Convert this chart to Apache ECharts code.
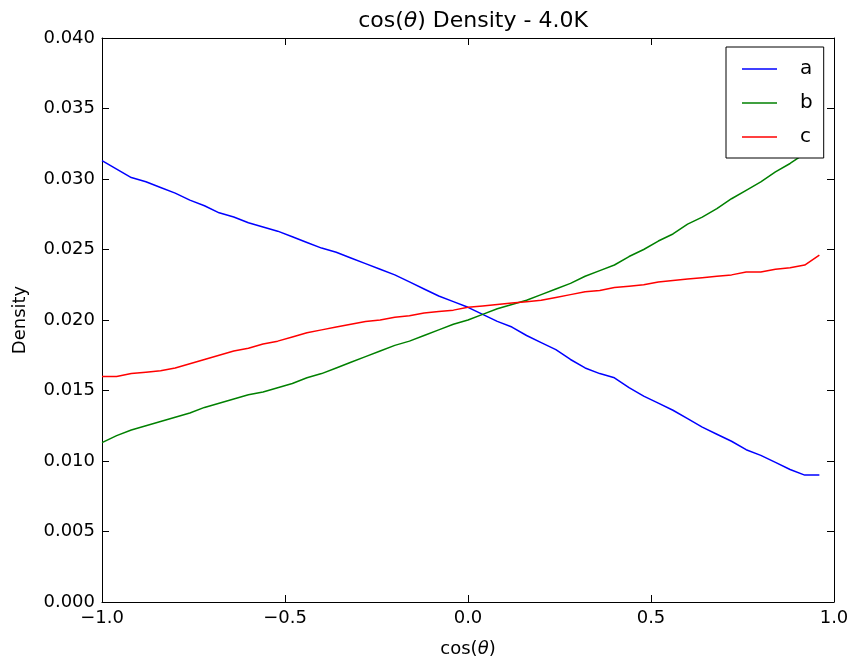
<!DOCTYPE html>
<html>
<head>
<meta charset="utf-8">
<script src="https://cdn.jsdelivr.net/npm/echarts@6/dist/echarts.min.js"></script>
<style>html,body{margin:0;padding:0;background:#fff}#c{width:854px;height:664px}</style>
</head>
<body>
<div id="c"></div>
<script>
const xs = [-1.00,-0.96,-0.92,-0.88,-0.84,-0.80,-0.76,-0.72,-0.68,-0.64,
            -0.60,-0.56,-0.52,-0.48,-0.44,-0.40,-0.36,-0.32,-0.28,-0.24,
            -0.20,-0.16,-0.12,-0.08,-0.04,0.00,0.04,0.08,0.12,0.16,
            0.20,0.24,0.28,0.32,0.36,0.40,0.44,0.48,0.52,0.56,
            0.60,0.64,0.68,0.72,0.76,0.80,0.84,0.88,0.92,0.96];
const seriesA = [0.0313,0.0307,0.0301,0.0298,0.0294,0.0290,0.0285,0.0281,0.0276,0.0273,
                 0.0269,0.0266,0.0263,0.0259,0.0255,0.0251,0.0248,0.0244,0.0240,0.0236,
                 0.0232,0.0227,0.0222,0.0217,0.0213,0.0209,0.0204,0.0199,0.0195,0.0189,
                 0.0184,0.0179,0.0172,0.0166,0.0162,0.0159,0.0152,0.0146,0.0141,0.0136,
                 0.0130,0.0124,0.0119,0.0114,0.0108,0.0104,0.0099,0.0094,0.0090,0.0090];
const seriesB = [0.0113,0.0118,0.0122,0.0125,0.0128,0.0131,0.0134,0.0138,0.0141,0.0144,
                 0.0147,0.0149,0.0152,0.0155,0.0159,0.0162,0.0166,0.0170,0.0174,0.0178,
                 0.0182,0.0185,0.0189,0.0193,0.0197,0.0200,0.0204,0.0208,0.0211,0.0214,
                 0.0218,0.0222,0.0226,0.0231,0.0235,0.0239,0.0245,0.0250,0.0256,0.0261,
                 0.0268,0.0273,0.0279,0.0286,0.0292,0.0298,0.0305,0.0311,0.0318,0.0325];
const seriesC = [0.0160,0.0160,0.0162,0.0163,0.0164,0.0166,0.0169,0.0172,0.0175,0.0178,
                 0.0180,0.0183,0.0185,0.0188,0.0191,0.0193,0.0195,0.0197,0.0199,0.0200,
                 0.0202,0.0203,0.0205,0.0206,0.0207,0.0209,0.0210,0.0211,0.0212,0.0213,
                 0.0214,0.0216,0.0218,0.0220,0.0221,0.0223,0.0224,0.0225,0.0227,0.0228,
                 0.0229,0.0230,0.0231,0.0232,0.0234,0.0234,0.0236,0.0237,0.0239,0.0246];
const seriesNames = ['a','b','c'];
const colors = ['#0000ff','#008000','#ff0000'];

const FONT = 'DejaVu Sans';
const chart = echarts.init(document.getElementById('c'), null, {renderer:'canvas'});
const pair = arr => xs.map((x,i)=>[x, arr[i]]);
const tickStyle = {show:true, inside:true, length:7, lineStyle:{color:'#000', width:1}};
const lineAxis = {show:true, onZero:false, lineStyle:{color:'#000', width:1}};
const fmtX = v => (v<0 ? '\u2212' : '') + Math.abs(v).toFixed(1);

chart.setOption({
  animation:false,
  backgroundColor:'#fff',
  title:{
    text:'{n|cos(}{i|θ}{n|) Density - 4.0K}',
    left:468, top:5, textAlign:'center',
    textStyle:{fontWeight:'normal', rich:{
      n:{fontFamily:FONT, fontSize:22, fontWeight:'normal', color:'#000'},
      i:{fontFamily:FONT, fontSize:22, fontWeight:'normal', fontStyle:'italic', color:'#000'}
    }}
  },
  grid:{left:102, right:20, top:38, bottom:62, containLabel:false},
  legend:{
    left:726, top:47, orient:'vertical',
    data:seriesNames,
    icon:'rect', itemWidth:35, itemHeight:1.5, itemGap:14,
    padding:[12,11,11,16],
    borderColor:'#000', borderWidth:1, backgroundColor:'#fff',
    textStyle:{fontFamily:FONT, fontSize:20, color:'#000', padding:[0,0,0,18]}
  },
  xAxis:[{
    type:'value', min:-1, max:1, interval:0.5,
    name:'{n|cos(}{i|θ}{n|)}', nameLocation:'middle', nameGap:38,
    nameTextStyle:{rich:{
      n:{fontFamily:FONT, fontSize:18, color:'#000'},
      i:{fontFamily:FONT, fontSize:18, fontStyle:'italic', color:'#000'}
    }},
    axisLine:lineAxis, axisTick:tickStyle, splitLine:{show:false},
    axisLabel:{fontFamily:FONT, fontSize:18, color:'#000', margin:7, formatter:fmtX}
  },{
    type:'value', min:-1, max:1, interval:0.5, position:'top',
    axisLine:lineAxis, axisTick:tickStyle, splitLine:{show:false}, axisLabel:{show:false}
  }],
  yAxis:[{
    type:'value', min:0, max:0.04, interval:0.005,
    name:'Density', nameLocation:'middle', nameGap:73,
    nameTextStyle:{fontFamily:FONT, fontSize:18, color:'#000'},
    axisLine:lineAxis, axisTick:tickStyle, splitLine:{show:false},
    axisLabel:{fontFamily:FONT, fontSize:18, color:'#000', margin:7, formatter:v=>v.toFixed(3)}
  },{
    type:'value', min:0, max:0.04, interval:0.005, position:'right',
    axisLine:lineAxis, axisTick:tickStyle, splitLine:{show:false}, axisLabel:{show:false}
  }],
  series:[seriesA, seriesB, seriesC].map((arr,i)=>({
    name:seriesNames[i], type:'line', data:pair(arr),
    xAxisIndex:0, yAxisIndex:0,
    showSymbol:false, symbol:'none',
    lineStyle:{color:colors[i], width:1.5},
    itemStyle:{color:colors[i]}
  }))
});
</script>
</body>
</html>
